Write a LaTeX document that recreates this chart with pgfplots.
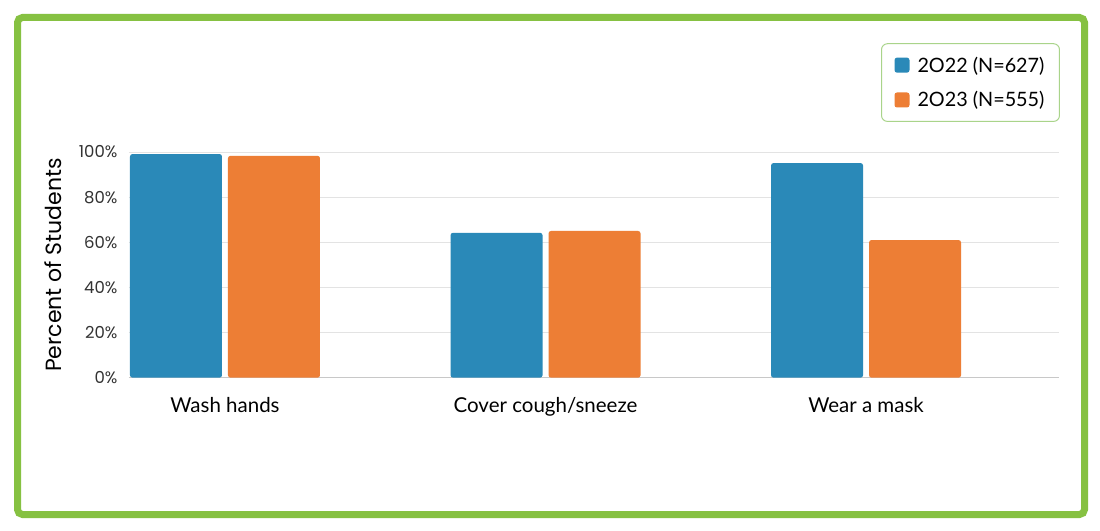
\documentclass[border=0pt]{standalone}
\usepackage{fontspec}
\setmainfont{Lato}
\newfontfamily\pop{Poppins}
\usepackage{pgfplots}
\pgfplotsset{compat=1.18}
\definecolor{cblue}{HTML}{2A89B8}
\definecolor{corange}{HTML}{ED7E35}
\definecolor{fgreen}{HTML}{86C142}
\definecolor{lgreen}{HTML}{A9D48A}
\definecolor{gridc}{HTML}{E3E3E3}
\definecolor{axc}{HTML}{C8C8C8}
\definecolor{txt}{HTML}{333333}
\begin{document}
\begin{tikzpicture}[x=1pt,y=1pt]
\useasboundingbox[fill=white] (0,0) rectangle (1100,530);
\draw[fgreen, line width=7pt, rounded corners=5pt] (17.5,15.5) rectangle (1084.5,512.5);
\begin{axis}[
  at={(129pt,152.3pt)}, anchor=south west,
  scale only axis, width=930pt, height=225.7pt,
  xmin=-0.2995, xmax=2.602, ymin=0, ymax=100,
  ybar=6pt, bar width=92pt,
  xtick={0,1,2}, xticklabels={Wash hands, Cover cough/sneeze, Wear a mask},
  xtick style={draw=none}, ytick style={draw=none},
  xticklabel style={font=\fontsize{20.5}{24}\selectfont, text=black, yshift=-12pt},
  ytick={0,20,40,60,80,100},
  yticklabel={\pgfmathprintnumber{\tick}\%},
  /pgf/number format/assume math mode=true,
  yticklabel style={font=\pop\fontsize{16.5}{19}\selectfont, text=txt, xshift=-8pt},
  ymajorgrids, grid style={gridc, line width=0.8pt},
  axis x line*=bottom, axis y line*=left,
  y axis line style={draw=none},
  x axis line style={axc, line width=1pt},
  ylabel={Percent of Students},
  ylabel style={font=\pop\fontsize{22}{25}\selectfont, text=black, yshift=10pt},
  legend style={at={(0.8086,1.482)}, anchor=north west, draw=lgreen, line width=1pt,
    rounded corners=6pt, font=\fontsize{19.8}{23}\selectfont, text=black,
    inner xsep=13pt, inner ysep=11pt, row sep=14pt,
    /tikz/every odd column/.append style={column sep=6pt}},
  legend cell align=left,
  legend image code/.code={\fill[#1] (0pt,-7.5pt) rectangle (15pt,7.5pt);},
  every axis plot/.append style={draw=none, rounded corners=2.5pt},
]
\addplot[fill=cblue] coordinates {(0,99.1) (1,64.2) (2,95.1)};
\addplot[fill=corange] coordinates {(0,98.3) (1,65.0) (2,61.0)};
\legend{2O22 (N=627), 2O23 (N=555)}
\end{axis}
\end{tikzpicture}
\end{document}
